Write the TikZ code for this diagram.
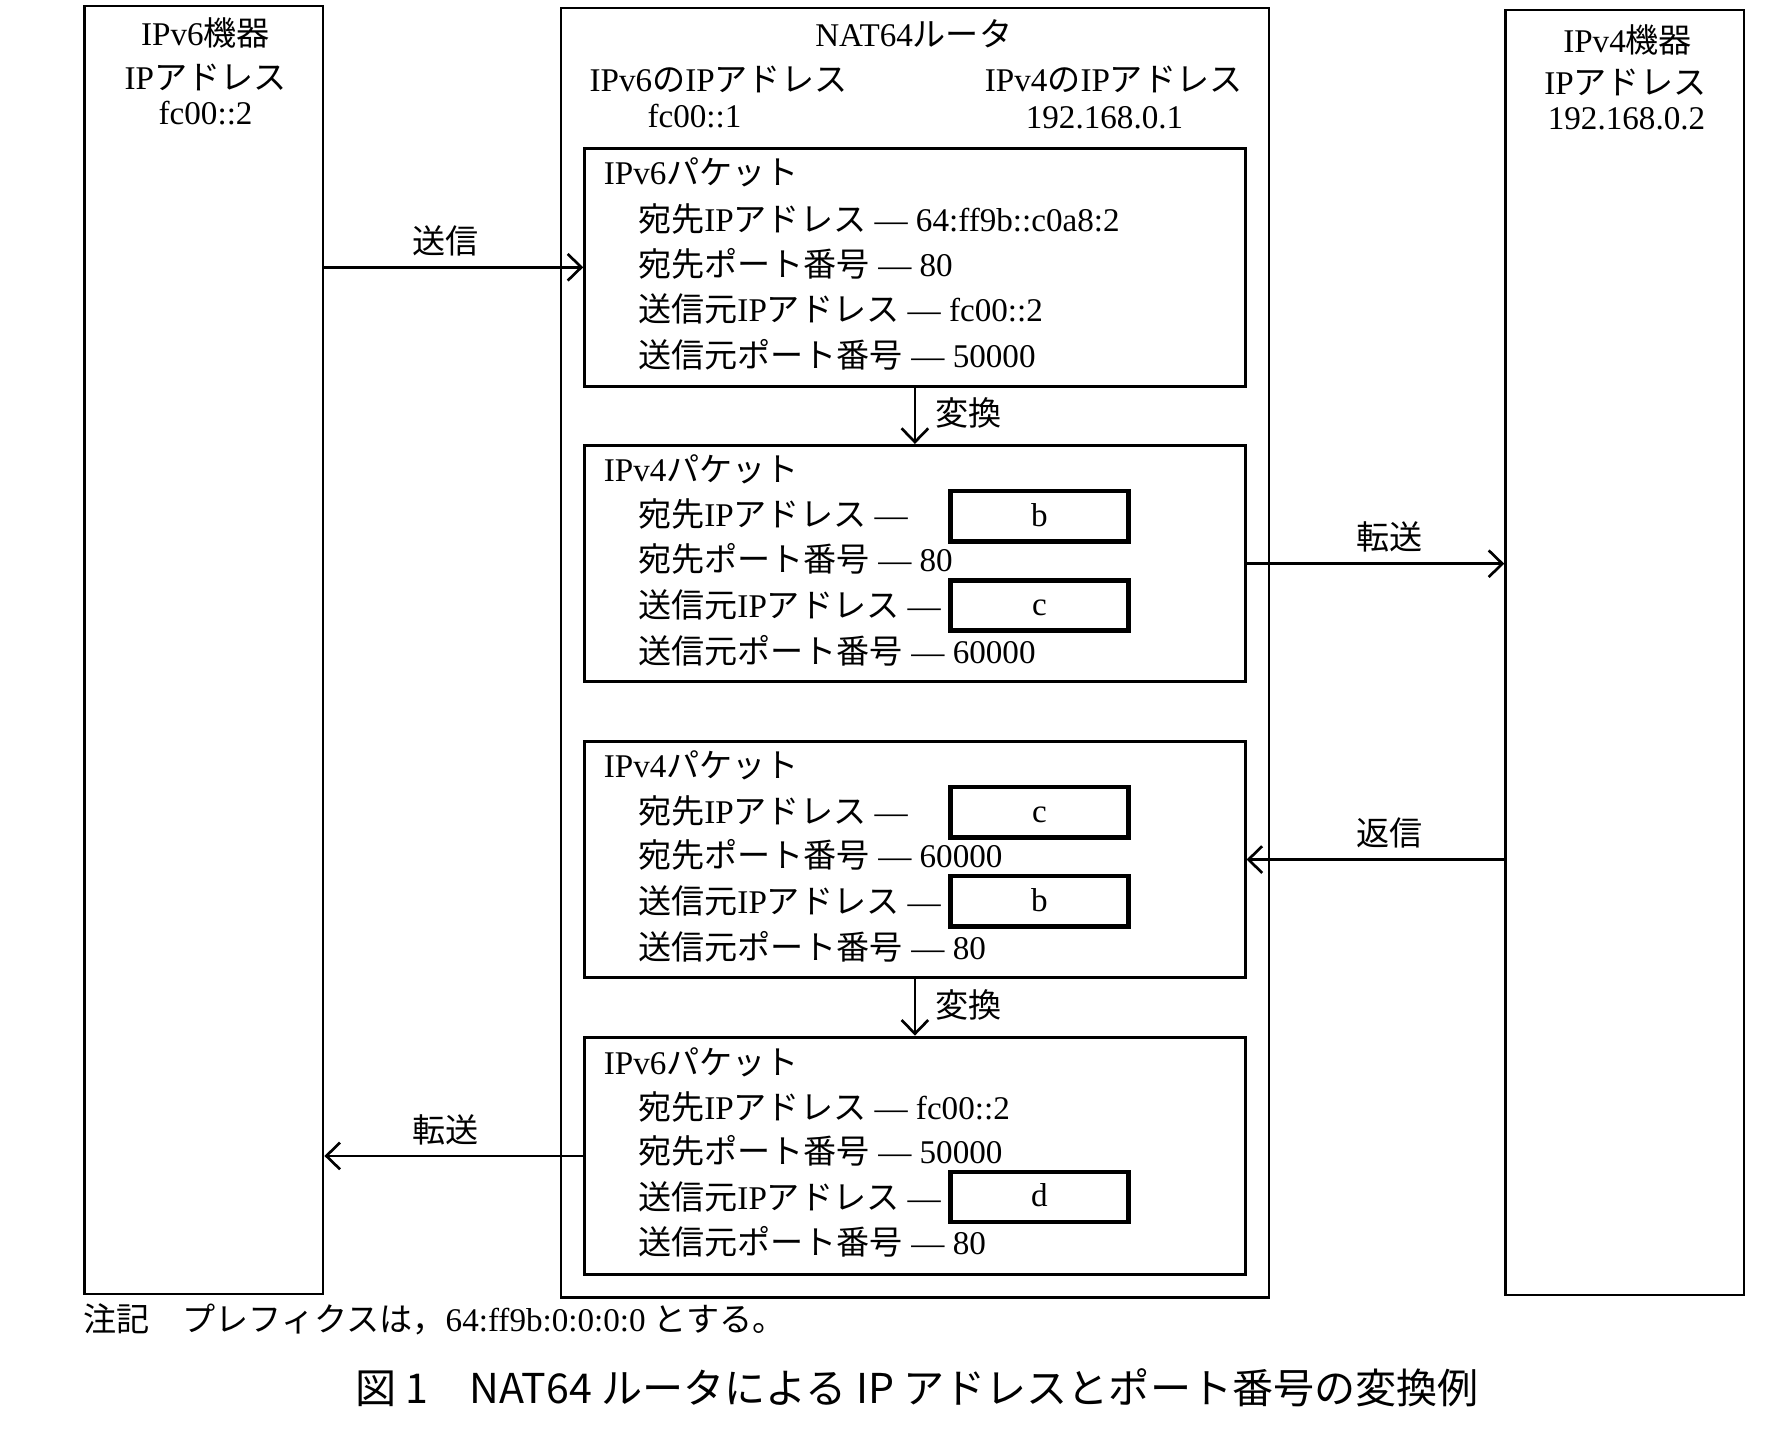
\documentclass[tikz,border=0pt]{standalone}
\usepackage{fontspec}
\setmainfont{Liberation Serif}
\newfontfamily\jpfont{Noto Sans CJK JP}
\newfontfamily\capfont{Noto Sans CJK JP}
\usetikzlibrary{arrows.meta,fit}
\makeatletter
\newXeTeXintercharclass\JPcls
\count@="3000
\loop \XeTeXcharclass\count@=\JPcls \advance\count@ by 1 \ifnum\count@<"A000 \repeat
\count@="FF00
\loop \XeTeXcharclass\count@=\JPcls \advance\count@ by 1 \ifnum\count@<"FFF0 \repeat
\makeatother
\XeTeXinterchartoks 0 \JPcls = {\jpfont}
\XeTeXinterchartoks 4095 \JPcls = {\jpfont}
\XeTeXinterchartoks \JPcls 0 = {\rmfamily}
\XeTeXinterchartoks \JPcls 4095 = {\rmfamily}
\XeTeXinterchartokenstate=1
\tikzset{
  base/.style={font=\fontsize{8.7}{10}\selectfont, inner sep=0pt, text height=7pt, text depth=1.8pt},
  lbl/.style={base, anchor=west},
  ctr/.style={base},
  frame/.style={draw, line width=0.6pt, inner sep=0pt},
  pkt/.style={draw, line width=0.8pt, inner sep=0pt},
  ans/.style={base, draw, line width=1.2pt, minimum width=46.8pt, minimum height=13.2pt},
  arr/.style={-{Straight Barb[length=3.6pt,width=7pt]}, line width=0.7pt},
  arrlbl/.style={base, above=1.5pt},
}
\begin{document}
\begin{tikzpicture}[x=0.3pt, y=-0.3pt]
\useasboundingbox (0,0) rectangle (1568,1256);
\fill[white] (0,0) rectangle (1568,1256);

% outer boxes
\node[frame, fit={(74,5) (283,1133)}] (v6) {};
\node[frame, fit={(491,7) (1111,1136)}] (rt) {};
\node[frame, fit={(1318,9) (1527,1134)}] (v4) {};

% left box text
\node[ctr] (v6t1) at (180,31) {IPv6機器};
\node[ctr] (v6t2) at (180,70) {IPアドレス};
\node[ctr] (v6t3) at (180,100) {fc00::2};

% router text
\node[ctr] (rtt1) at (800,32) {NAT64ルータ};
\node[ctr] (rtt2) at (629,71) {IPv6のIPアドレス};
\node[ctr] (rtt3) at (608,103) {fc00::1};
\node[ctr] (rtt4) at (975,71) {IPv4のIPアドレス};
\node[ctr] (rtt5) at (967,104) {192.168.0.1};

% right box text
\node[ctr] (v4t1) at (1425,37) {IPv4機器};
\node[ctr] (v4t2) at (1423,74) {IPアドレス};
\node[ctr] (v4t3) at (1424,105) {192.168.0.2};

% packet boxes
\node[pkt, fit={(512,130) (1090,338)}] (p1) {};
\node[pkt, fit={(512,390) (1090,597)}] (p2) {};
\node[pkt, fit={(512,649) (1090,856)}] (p3) {};
\node[pkt, fit={(512,908) (1090,1116)}] (p4) {};

% packet 1
\node[lbl] (p1t) at (528,153) {IPv6パケット};
\node[lbl] (p1a) at (558,194) {宛先IPアドレス — 64:ff9b::c0a8:2};
\node[lbl] (p1b) at (558,233) {宛先ポート番号 — 80};
\node[lbl] (p1c) at (558,273) {送信元IPアドレス — fc00::2};
\node[lbl] (p1d) at (558,313) {送信元ポート番号 — 50000};

% packet 2
\node[lbl] (p2t) at (528,413) {IPv4パケット};
\node[lbl] (p2a) at (558,452) {宛先IPアドレス —};
\node[ans] (ab1) at (910,452) {b};
\node[lbl] (p2b) at (558,492) {宛先ポート番号 — 80};
\node[lbl] (p2c) at (558,532) {送信元IPアドレス —};
\node[ans] (ac1) at (910,530) {c};
\node[lbl] (p2d) at (558,572) {送信元ポート番号 — 60000};

% packet 3
\node[lbl] (p3t) at (528,672) {IPv4パケット};
\node[lbl] (p3a) at (558,712) {宛先IPアドレス —};
\node[ans] (ac2) at (910,711) {c};
\node[lbl] (p3b) at (558,751) {宛先ポート番号 — 60000};
\node[lbl] (p3c) at (558,791) {送信元IPアドレス —};
\node[ans] (ab2) at (910,789) {b};
\node[lbl] (p3d) at (558,831) {送信元ポート番号 — 80};

% packet 4
\node[lbl] (p4t) at (528,932) {IPv6パケット};
\node[lbl] (p4a) at (558,971) {宛先IPアドレス — fc00::2};
\node[lbl] (p4b) at (558,1010) {宛先ポート番号 — 50000};
\node[lbl] (p4c) at (558,1050) {送信元IPアドレス —};
\node[ans] (ad1) at (910,1048) {d};
\node[lbl] (p4d) at (558,1090) {送信元ポート番号 — 80};

% connectors
\draw[arr] (v6.east |- p1.west) -- node[arrlbl, xshift=-2.1pt] (l1) {送信} (p1.west);
\draw[arr] (p1.south) -- node[base, right=5pt] (l2) {変換} (p2.north);
\draw[arr] (p2.east) -- node[arrlbl, xshift=3.6pt] (l3) {転送} (v4.west |- p2.east);
\draw[arr] (v4.west |- p3.east) -- node[arrlbl, xshift=3.6pt] (l4) {返信} (p3.east);
\draw[arr] (p3.south) -- node[base, right=5pt] (l5) {変換} (p4.north);
\draw[arr] (p4.west) -- node[arrlbl, xshift=-2.1pt] (l6) {転送} (v6.east |- p4.west);

% note and caption
\node[lbl] (note) at (72,1157) {注記　プレフィクスは，64:ff9b:0:0:0:0 とする。};
\node[font=\capfont\fontsize{10.8}{13}\selectfont, inner sep=0pt] (cap) at (803,1215)
  {\XeTeXinterchartokenstate=0 図 1　NAT64 ルータによる IP アドレスとポート番号の変換例};
\end{tikzpicture}
\end{document}
